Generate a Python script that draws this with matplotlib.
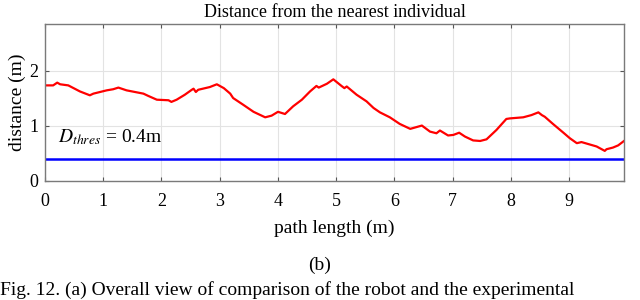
import numpy as np
import matplotlib.pyplot as plt

# distance au plus proche individu, relevé le long du chemin
path_len = [0.00, 0.14, 0.21, 0.26, 0.40, 0.60, 0.77, 0.83, 1.06, 1.17, 1.26, 1.40,
            1.69, 1.77, 1.92, 2.12, 2.17, 2.26, 2.40, 2.52, 2.55, 2.59, 2.63, 2.83,
            2.95, 3.07, 3.18, 3.23, 3.40, 3.58, 3.78, 3.89, 4.00, 4.12, 4.26, 4.41,
            4.55, 4.66, 4.70, 4.84, 4.95, 5.09, 5.14, 5.18, 5.35, 5.52, 5.64, 5.75,
            5.92, 6.09, 6.27, 6.47, 6.61, 6.72, 6.78, 6.92, 7.01, 7.11, 7.21, 7.35,
            7.47, 7.58, 7.75, 7.92, 7.98, 8.21, 8.35, 8.47, 8.53, 8.58, 8.72, 8.90,
            9.01, 9.13, 9.21, 9.47, 9.61, 9.64, 9.75, 9.84, 9.94]
distance = [1.73, 1.73, 1.78, 1.75, 1.73, 1.62, 1.55, 1.58, 1.64, 1.66, 1.69, 1.64,
            1.58, 1.54, 1.47, 1.46, 1.43, 1.47, 1.56, 1.65, 1.67, 1.61, 1.65, 1.70,
            1.75, 1.68, 1.58, 1.50, 1.38, 1.25, 1.15, 1.18, 1.25, 1.21, 1.35, 1.47,
            1.62, 1.72, 1.69, 1.76, 1.84, 1.72, 1.68, 1.71, 1.56, 1.44, 1.32, 1.24,
            1.15, 1.03, 0.94, 1.00, 0.89, 0.86, 0.91, 0.82, 0.83, 0.87, 0.80, 0.73,
            0.72, 0.75, 0.92, 1.12, 1.13, 1.15, 1.19, 1.24, 1.19, 1.16, 1.03, 0.87,
            0.77, 0.68, 0.70, 0.62, 0.54, 0.57, 0.60, 0.64, 0.72]
d_thres = 0.4
x_ticks = [0, 1, 2, 3, 4, 5, 6, 7, 8, 9]
y_ticks = [0, 1, 2]

plt.rcParams['font.family'] = ['Liberation Serif', 'DejaVu Serif']
plt.rcParams['mathtext.fontset'] = 'stix'

fig = plt.figure(figsize=(6.4, 3.0), dpi=100)
ax = fig.add_axes([0.0703, 0.398, 0.9047, 0.521])

ax.plot(path_len, distance, color='red', linewidth=1.6)
ax.axhline(d_thres, color='#0000ff', linewidth=1.8)
ax.text(0.22, 0.69, r'$D_{thres}$ = 0.4m', fontsize=14)

ax.set_xlim(0, 9.94)
ax.set_ylim(0, 2.84)
ax.set_xticks(x_ticks)
ax.set_yticks(y_ticks)
ax.grid(True, color='#e3e3e3', linewidth=0.8)
ax.tick_params(direction='in', top=True, right=True, length=3,
               color='#555555', labelsize=13, pad=5)
ax.tick_params(axis='x', pad=9)
for s in ax.spines.values():
    s.set_color('#7a7a7a')
    s.set_linewidth(1.0)

ax.set_title('Distance from the nearest individual', fontsize=13, pad=5)
ax.set_xlabel('path length (m)', fontsize=14, labelpad=7)
ax.set_ylabel('distance (m)', fontsize=14, labelpad=2)

fig.text(0.5, 0.117, '(b)', ha='center', va='center', fontsize=14)
fig.text(0.0, 0.002, 'Fig. 12. (a) Overall view of comparison of the robot and the experimental',
         ha='left', va='bottom', fontsize=14)

fig.savefig('out.png', dpi=100)
